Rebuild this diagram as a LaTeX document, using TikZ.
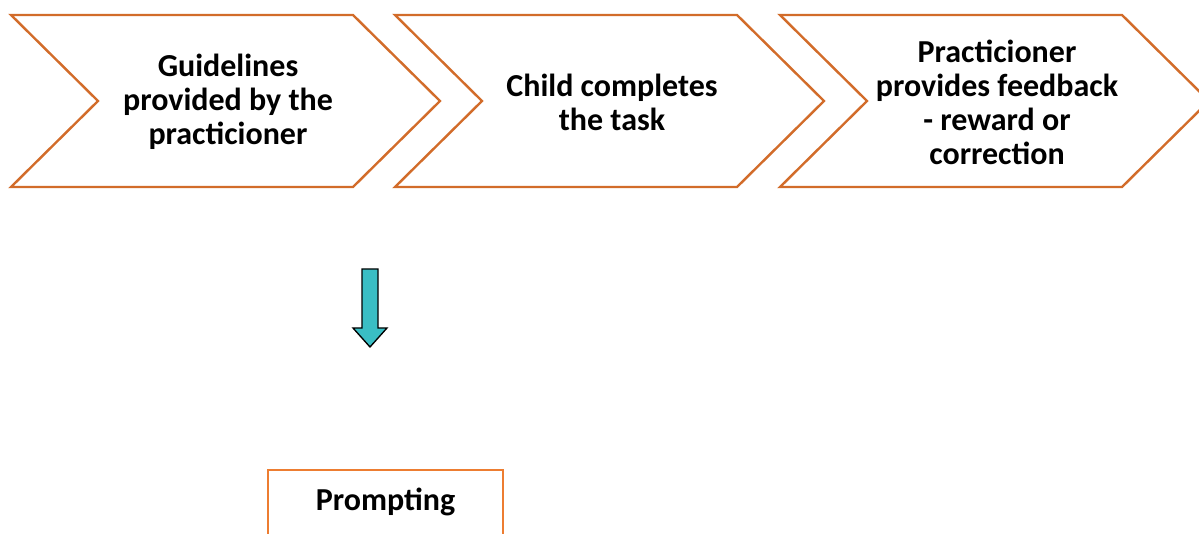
\documentclass[tikz,border=0pt]{standalone}
\usepackage{fontspec}
\setmainfont{Carlito}
\definecolor{chevorange}{RGB}{210,108,42}
\definecolor{boxorange}{RGB}{237,125,49}
\definecolor{arrowteal}{RGB}{58,190,196}

\begin{document}
\begin{tikzpicture}[x=0.75pt,y=-0.75pt,
  steptext/.style={align=center,font=\bfseries\fontsize{24}{25.5}\selectfont},
  chevline/.style={chevorange,line width=1.8pt,fill=white}]
\useasboundingbox (0,0) rectangle (1199,534);
\foreach \x/\name/\txt in {11/guide/{Guidelines\\provided by the\\practicioner},
    395/child/{Child completes\\the task},
    780/feed/{Practicioner\\provides feedback\\- reward or\\correction}} {
	\draw[chevline] (\x,15) -- ++(342,0) -- ++(87,86) -- ++(-87,86) -- ++(-342,0) -- ++(87,-86) -- cycle;
	\node[steptext] (\name) at (\x+217,102) {\txt};
}
\draw[fill=arrowteal,line width=1pt,line join=miter] (362,269) -- (378,269) -- (378,328) -- (387,328) -- (370,347) -- (353,328) -- (362,328) -- cycle;
\draw[boxorange,line width=1.8pt] (268,470) rectangle (503,560);
\node[steptext] (prompt) at (385.5,502) {Prompting};
\end{tikzpicture}
\end{document}
